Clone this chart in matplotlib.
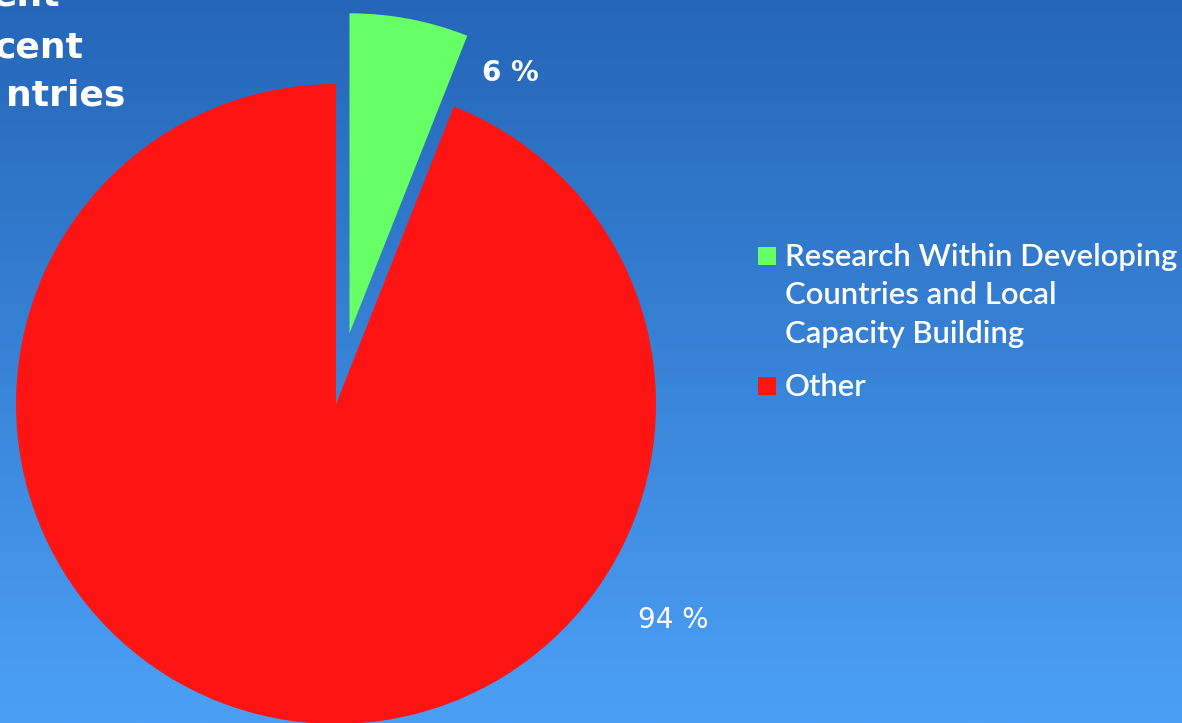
import numpy as np
import matplotlib.pyplot as plt
from matplotlib.colors import LinearSegmentedColormap
from matplotlib.patches import Rectangle

# share of funding
categories = ["Research Within Developing\nCountries and Local\nCapacity Building", "Other"]
shares = [6, 94]
pct_labels = ["6 %", "94 %"]
colors = ["#66ff66", "#ff1414"]
title_lines = ["ent", "cent", "ntries"]

W, H = 1182, 723
fig = plt.figure(figsize=(W / 100, H / 100), dpi=100)

# blue gradient background
bg = fig.add_axes([0, 0, 1, 1])
grad = np.linspace(0, 1, 256).reshape(-1, 1)
cmap = LinearSegmentedColormap.from_list("bg", ["#2566b8", "#4ba0f6"])
bg.imshow(grad, cmap=cmap, aspect="auto", extent=[0, 1, 0, 1], origin="upper")
bg.set_xlim(0, 1)
bg.set_ylim(0, 1)
bg.axis("off")

# pie axes: centre at (336, 404) px, radius 320 px
R = 320
L = 1.3
cx, cy = 336, H - 404
ax = fig.add_axes([(cx - L * R) / W, (cy - L * R) / H, 2 * L * R / W, 2 * L * R / H])
wedges, _ = ax.pie(shares, colors=colors, startangle=90, counterclock=False,
                   explode=[0.225, 0], radius=1,
                   wedgeprops=dict(linewidth=0, antialiased=True))
ax.set_xlim(-L, L)
ax.set_ylim(-L, L)
ax.axis("off")

# percentage labels
ax.text(0.545, 1.035, pct_labels[0], color="white", fontsize=20, fontweight="bold",
        ha="center", va="center")
ax.text(1.053, -0.675, pct_labels[1], color="white", fontsize=20,
        ha="center", va="center")

# title (runs off the left edge)
for i, t in enumerate(title_lines):
    fig.text([60, 84, 125][i] / W, 1 - [5, 57, 106][i] / H, t, color="white",
             fontsize=26, fontweight="bold", ha="right", va="baseline")

# legend: square swatch next to the first line of each label
leg_font = dict(family="Lato", size=22.3, weight="semibold")
for i, (lab, col) in enumerate(zip(categories, colors)):
    y_top = [247, 377][i]
    fig.patches.append(Rectangle((758 / W, 1 - (y_top + 18) / H), 18 / W, 18 / H,
                                 transform=fig.transFigure, facecolor=col,
                                 edgecolor="none"))
    fig.text(785 / W, 1 - (y_top - 4) / H, lab, color="white", ha="left",
             va="top", linespacing=1.45, fontdict=leg_font)

fig.savefig("out.png", dpi=100)
